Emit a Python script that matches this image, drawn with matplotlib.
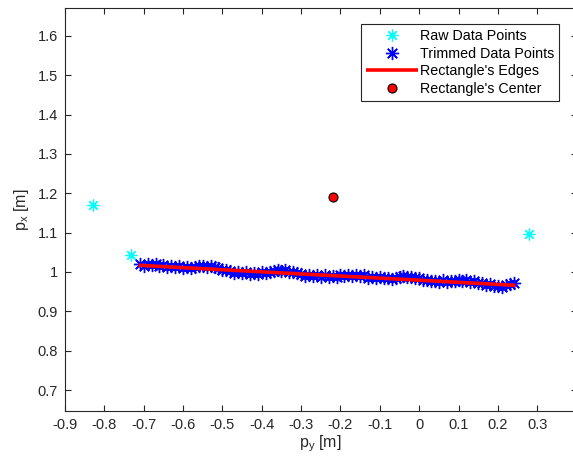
import matplotlib
matplotlib.use("Agg")
import matplotlib.pyplot as plt

plt.rcParams["font.family"] = ["Liberation Sans", "DejaVu Sans"]
plt.rcParams["mathtext.default"] = "regular"

# Outlier scan returns (cyan)
raw_x = [-0.829, -0.732, 0.278]
raw_y = [1.170, 1.043, 1.096]

# Scan returns kept after trimming (blue)
trim_x = [-0.71, -0.70, -0.69, -0.68, -0.67, -0.66, -0.65, -0.64, -0.63, -0.62,
          -0.61, -0.60, -0.59, -0.58, -0.57, -0.56, -0.55, -0.54, -0.53, -0.52,
          -0.51, -0.50, -0.49, -0.48, -0.47, -0.46, -0.45, -0.44, -0.43, -0.42,
          -0.41, -0.40, -0.39, -0.38, -0.37, -0.36, -0.35, -0.34, -0.33, -0.32,
          -0.31, -0.30, -0.29, -0.28, -0.27, -0.26, -0.25, -0.24, -0.23, -0.22,
          -0.21, -0.20, -0.19, -0.18, -0.17, -0.16, -0.15, -0.14, -0.13, -0.12,
          -0.11, -0.10, -0.09, -0.08, -0.07, -0.06, -0.05, -0.04, -0.03, -0.02,
          -0.01, 0.00, 0.01, 0.02, 0.03, 0.04, 0.05, 0.06, 0.07, 0.08,
          0.09, 0.10, 0.11, 0.12, 0.13, 0.14, 0.15, 0.16, 0.17, 0.18,
          0.19, 0.20, 0.21, 0.22, 0.23, 0.24]
trim_y = [1.020, 1.016, 1.020, 1.017, 1.020, 1.015, 1.018, 1.013, 1.016, 1.013,
          1.016, 1.010, 1.012, 1.010, 1.012, 1.014, 1.016, 1.012, 1.014, 1.012,
          1.011, 1.006, 1.006, 1.003, 0.998, 1.001, 0.998, 1.001, 0.996, 0.998,
          0.996, 0.999, 0.997, 1.000, 1.002, 1.005, 1.003, 1.005, 1.000, 1.001,
          0.997, 0.994, 0.990, 0.993, 0.989, 0.991, 0.987, 0.991, 0.987, 0.990,
          0.987, 0.991, 0.990, 0.992, 0.989, 0.993, 0.990, 0.992, 0.985, 0.987,
          0.984, 0.988, 0.984, 0.984, 0.981, 0.985, 0.986, 0.990, 0.987, 0.988,
          0.984, 0.984, 0.979, 0.980, 0.976, 0.978, 0.975, 0.979, 0.974, 0.978,
          0.976, 0.980, 0.977, 0.980, 0.974, 0.976, 0.971, 0.971, 0.966, 0.969,
          0.965, 0.965, 0.962, 0.966, 0.969, 0.973]

# Fitted rectangle edge and centre
edge_x = [-0.713, 0.245]
edge_y = [1.017, 0.966]
center_x = [-0.218]
center_y = [1.190]

x_ticks = [-0.9, -0.8, -0.7, -0.6, -0.5, -0.4, -0.3, -0.2, -0.1, 0, 0.1, 0.2, 0.3]
x_tick_labels = ["-0.9", "-0.8", "-0.7", "-0.6", "-0.5", "-0.4", "-0.3",
                 "-0.2", "-0.1", "0", "0.1", "0.2", "0.3"]
y_ticks = [0.7, 0.8, 0.9, 1.0, 1.1, 1.2, 1.3, 1.4, 1.5, 1.6]
y_tick_labels = ["0.7", "0.8", "0.9", "1", "1.1", "1.2", "1.3", "1.4", "1.5", "1.6"]

W, H = 573, 469
fig = plt.figure(figsize=(W / 100, H / 100), dpi=100)
ax = fig.add_axes([65 / W, (H - 410.7) / H, 511.6 / W, 402.7 / H])

asterisk = (8, 2, 0)
ax.plot(raw_x, raw_y, linestyle="none", marker=asterisk, color=(0, 1, 1),
        markersize=8.5, markeredgewidth=0.9, label="Raw Data Points")
ax.plot(trim_x, trim_y, linestyle="none", marker=asterisk, color=(0, 0, 1),
        markersize=9.5, markeredgewidth=1.0, label="Trimmed Data Points")
ax.plot(edge_x, edge_y, color=(1, 0, 0), linewidth=2.6, solid_capstyle="butt",
        label="Rectangle's Edges")
ax.plot(center_x, center_y, linestyle="none", marker="o", markersize=6.5,
        markerfacecolor=(1, 0, 0), markeredgecolor="black", markeredgewidth=0.8,
        label="Rectangle's Center")

ax.set_xlim(-0.9, 0.4)
ax.set_ylim(0.6474, 1.6708)
ax.set_xticks(x_ticks)
ax.set_xticklabels(x_tick_labels)
ax.set_yticks(y_ticks)
ax.set_yticklabels(y_tick_labels)

dark = (0.15, 0.15, 0.15)
for s in ax.spines.values():
    s.set_color(dark)
    s.set_linewidth(0.8)
ax.tick_params(direction="in", length=4, width=0.8, color=dark, labelcolor=dark,
               labelsize=10.5, top=True, right=True, pad=5)

ax.set_xlabel("p$_{y}$ [m]", fontsize=11.5, color=dark, labelpad=1)
ax.set_ylabel("p$_{x}$ [m]", fontsize=11.5, color=dark, labelpad=5)

leg = ax.legend(loc="upper left", bbox_to_anchor=(361 / W, 1 - 24 / H),
                bbox_transform=fig.transFigure, borderaxespad=0,
                fancybox=False, framealpha=1, edgecolor=dark, fontsize=10.3,
                handlelength=3.6, handletextpad=0.15, labelspacing=0.25,
                borderpad=0.35)
leg.get_frame().set_linewidth(0.8)

fig.savefig("out.png", dpi=100)
